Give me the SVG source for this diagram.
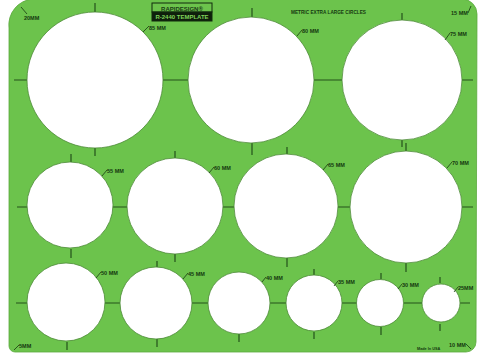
<svg xmlns="http://www.w3.org/2000/svg" width="479" height="358" viewBox="0 0 479 358">
<style>
.board{fill:#6cc34c;stroke:#5aa83e;stroke-width:0.8}
.hole{fill:#ffffff;stroke:#4c8a37;stroke-width:0.8}
.tick{stroke:#24521b;stroke-width:1.2;fill:none}
.lead{stroke:#163a10;stroke-width:0.8;fill:none}
.lbl{font-family:"Liberation Sans",Arial,sans-serif;font-weight:bold;font-size:5.5px;fill:#143810}
.small{font-family:"Liberation Sans",Arial,sans-serif;font-weight:bold;font-size:4.2px;fill:#143810}
</style>
<rect width="479" height="358" fill="#ffffff"/>
<path class="board" d="M9,28 A26,26 0 0 1 33,-1 L462,-1 A15,15 0 0 1 477,14 L476,342 A10,10 0 0 1 466,352 L15,352 A6,6 0 0 1 9,346 Z"/>

<g id="logo">
<rect x="152" y="3" width="60" height="9" fill="#6cc34c" stroke="#102a0c" stroke-width="1"/>
<rect x="152" y="12" width="60" height="9" fill="#0f1f0c" stroke="#102a0c" stroke-width="1"/>
<text x="182" y="10.5" text-anchor="middle" class="lbl" style="font-size:6px;fill:#1a3a14">RAPIDESIGN®</text>
<text x="182" y="19" text-anchor="middle" class="lbl" style="font-size:6px;fill:#7fd35a">R-2440  TEMPLATE</text>
</g>
<text x="291" y="14" class="small" style="font-size:4.7px" textLength="75">METRIC EXTRA LARGE CIRCLES</text>

<g id="corners">
<line class="lead" x1="21" y1="7" x2="27" y2="14"/>
<text x="24" y="20" class="lbl">20MM</text>
<text x="451" y="15" class="lbl">15 MM</text>
<line class="lead" x1="468" y1="13" x2="471" y2="6"/>
<line class="lead" x1="14" y1="350" x2="19" y2="345"/>
<text x="19" y="348" class="lbl">5MM</text>
<text x="449" y="347" class="lbl">10 MM</text>
<line class="lead" x1="466" y1="344" x2="471" y2="349"/>
<text x="417" y="350" class="small" style="font-size:3.8px">Made In USA</text>
</g>

<g id="connectors">
<path class="tick" d="M95,3V12 M252,8V17 M402,13V20 M14,80H27 M163,80H188 M314,80H342 M462,80H473 M95,148V156 M252,143V155 M402,140V147"/>
<path class="tick" d="M71,154V162 M175,151V158 M287,147V154 M406,143V151 M17,207H27 M113,207H127 M223,207H234 M338,207H350 M462,207H473 M71,249V258 M175,254V262 M287,258V267 M406,263V272"/>
<path class="tick" d="M157,261V267 M314,269V275 M381,273V279 M440,277V283 M16,303H27 M105,303H120 M192,303H208 M270,303H287 M342,303H357 M404,303H422 M460,303H470 M67,342V350 M157,339V347 M239,334V342 M314,332V339 M381,327V335 M440,324V331"/>
</g>

<g id="c85"><circle class="hole" cx="95" cy="80" r="68"/><line class="lead" x1="143" y1="32" x2="149" y2="26"/><text x="149" y="30" class="lbl">85 MM</text></g>
<g id="c80"><circle class="hole" cx="251" cy="80" r="63"/><line class="lead" x1="297" y1="36" x2="302" y2="30"/><text x="302" y="33" class="lbl">80 MM</text></g>
<g id="c75"><circle class="hole" cx="402" cy="80" r="60"/><line class="lead" x1="445" y1="40" x2="450" y2="33"/><text x="450" y="36" class="lbl">75 MM</text></g>

<g id="c55"><circle class="hole" cx="70" cy="205" r="43"/><line class="lead" x1="102" y1="176" x2="107" y2="170"/><text x="107" y="173" class="lbl">55 MM</text></g>
<g id="c60"><circle class="hole" cx="175" cy="206" r="48"/><line class="lead" x1="209" y1="173" x2="214" y2="167"/><text x="214" y="170" class="lbl">60 MM</text></g>
<g id="c65"><circle class="hole" cx="286" cy="206" r="52"/><line class="lead" x1="323" y1="170" x2="328" y2="164"/><text x="328" y="167" class="lbl">65 MM</text></g>
<g id="c70"><circle class="hole" cx="406" cy="207" r="56"/><line class="lead" x1="447" y1="168" x2="452" y2="162"/><text x="452" y="165" class="lbl">70 MM</text></g>

<g id="c50"><circle class="hole" cx="66" cy="302" r="39"/><line class="lead" x1="96" y1="278" x2="101" y2="272"/><text x="101" y="275" class="lbl">50 MM</text></g>
<g id="c45"><circle class="hole" cx="156" cy="303" r="36"/><line class="lead" x1="183" y1="279" x2="188" y2="273"/><text x="188" y="276" class="lbl">45 MM</text></g>
<g id="c40"><circle class="hole" cx="239" cy="303" r="31"/><line class="lead" x1="262" y1="282" x2="266" y2="277"/><text x="266" y="280" class="lbl">40 MM</text></g>
<g id="c35"><circle class="hole" cx="314" cy="303" r="28"/><line class="lead" x1="334" y1="286" x2="338" y2="281"/><text x="338" y="284" class="lbl">35 MM</text></g>
<g id="c30"><circle class="hole" cx="380" cy="303" r="23.5"/><line class="lead" x1="398" y1="289" x2="402" y2="284"/><text x="402" y="287" class="lbl">30 MM</text></g>
<g id="c25"><circle class="hole" cx="441" cy="303" r="19"/><line class="lead" x1="454" y1="292" x2="458" y2="287"/><text x="458" y="290" class="lbl">25MM</text></g>
</svg>
